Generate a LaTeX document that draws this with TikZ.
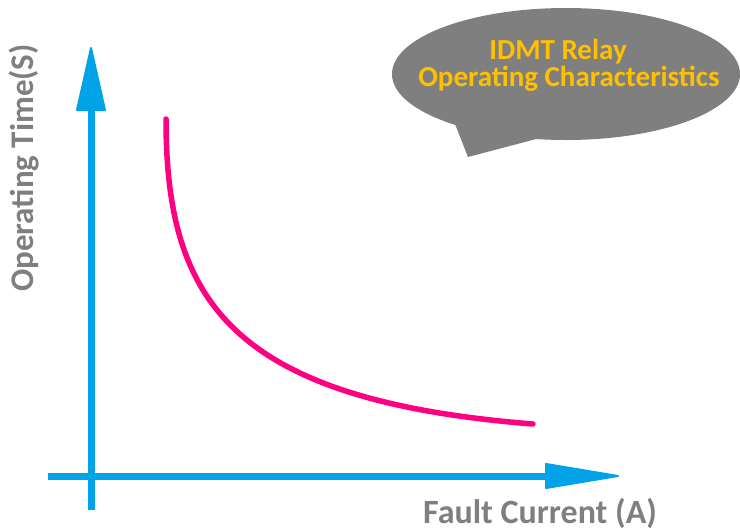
\documentclass[tikz,border=0pt]{standalone}
\usepackage{fontspec}
\setmainfont{Carlito}
\definecolor{axisblue}{HTML}{00A2E8}
\definecolor{curvepink}{HTML}{FF0080}
\definecolor{labelgray}{HTML}{7F7F7F}
\definecolor{bubblegray}{HTML}{7F7F7F}
\definecolor{titlegold}{HTML}{FFC000}
\tikzset{
  axisline/.style={draw=axisblue, line width=7pt},
  axishead/.style={fill=axisblue, draw=axisblue, line width=2pt, line join=round},
  curveline/.style={draw=curvepink, line width=5.5pt, line cap=round},
  axislabel/.style={text=labelgray, font=\bfseries\fontsize{34}{40}\selectfont, inner sep=0pt},
  bubbletext/.style={text=titlegold, font=\bfseries\fontsize{29}{33}\selectfont, inner sep=0pt},
}
\begin{document}
\begin{tikzpicture}[x=1pt, y=-1pt]
  \useasboundingbox (0,0) rectangle (740,531);

  % speech bubble
  \fill[bubblegray] (566,74) ellipse [x radius=174, y radius=66];
  \fill[bubblegray] (455,124) -- (468,157) -- (540,138) -- cycle;
  \node[bubbletext, anchor=base] (title1) at (558,59) {IDMT Relay};
  \node[bubbletext, anchor=base] (title2) at (569,86) {Operating Characteristics};

  % axes
  \coordinate (yfoot) at (91,510);
  \coordinate (ybase) at (91,110);
  \coordinate (xfoot) at (48,476);
  \coordinate (xbase) at (546,476);
  \draw[axisline] (yfoot) -- (ybase);
  \filldraw[axishead] (77,110) -- (105,110) -- (91,48) -- cycle;
  \draw[axisline] (xfoot) -- (xbase);
  \filldraw[axishead] (546,464) -- (546,488) -- (618,476) -- cycle;

  % inverse-time characteristic
  \coordinate (cstart) at (166,119);
  \coordinate (cend) at (533,424);
  \draw[curveline] (cstart) .. controls (166,300) and (230,400) .. (cend);

  % axis labels
  \node[axislabel, anchor=base] (xlabel) at (540,523) {Fault Current (A)};
  \node[axislabel, anchor=base, font=\bfseries\fontsize{33}{38}\selectfont, rotate=90] (ylabel) at (34,168) {Operating Time(S)};
\end{tikzpicture}
\end{document}
